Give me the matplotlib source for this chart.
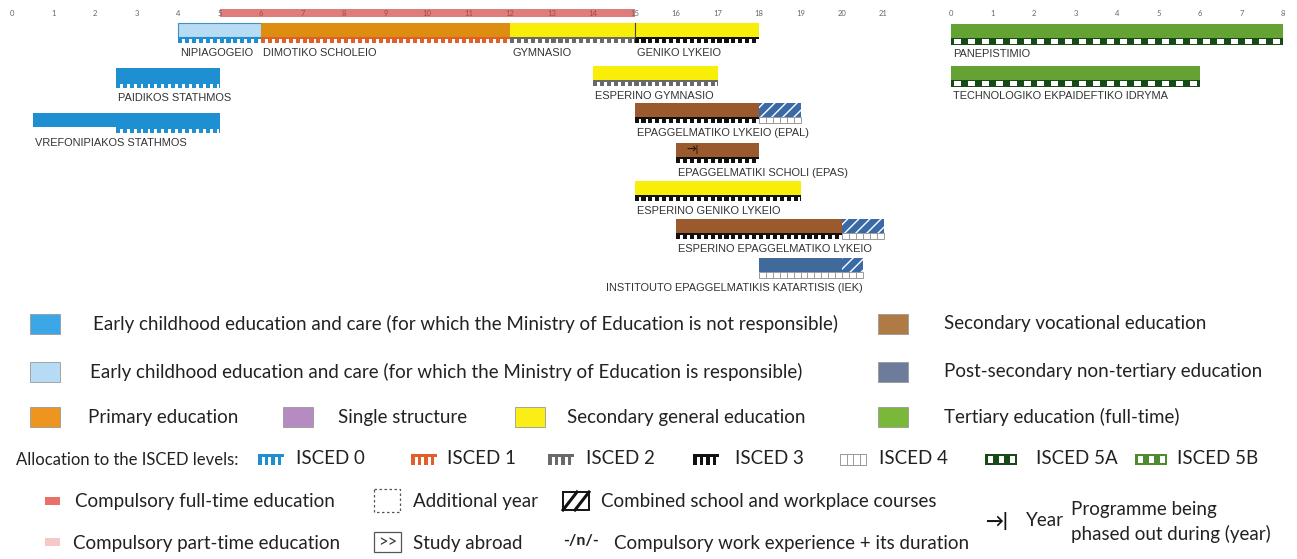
import matplotlib.pyplot as plt
from matplotlib.patches import Rectangle
import numpy as np

plt.rcParams['font.family'] = ['Lato', 'DejaVu Sans']

# age scale (left) and tertiary study years (right)
ages = list(range(0, 22))
tert_years = list(range(0, 9))
compulsory_start, compulsory_end = 5, 15

prog_names = ["NIPIAGOGEIO", "DIMOTIKO SCHOLEIO", "GYMNASIO", "GENIKO LYKEIO",
              "PAIDIKOS STATHMOS", "VREFONIPIAKOS STATHMOS", "ESPERINO GYMNASIO",
              "EPAGGELMATIKO LYKEIO (EPAL)", "EPAGGELMATIKI SCHOLI (EPAS)",
              "ESPERINO GENIKO LYKEIO", "ESPERINO EPAGGELMATIKO LYKEIO",
              "INSTITOUTO EPAGGELMATIKIS KATARTISIS (IEK)",
              "PANEPISTIMIO", "TECHNOLOGIKO EKPAIDEFTIKO IDRYMA"]
prog_tertiary = [False] * 12 + [True, True]

# segments of each programme: programme index, start, end, type, ISCED level
seg_prog = [0, 1, 2, 3, 4, 5, 5, 6, 7, 7, 8, 9, 10, 10, 11, 11, 12, 13]
seg_start = [4, 6, 12, 15, 2.5, 0.5, 2.5, 14, 15, 18, 16, 15, 16, 20, 18, 20, 0, 0]
seg_end = [6, 12, 15, 18, 5, 2.5, 5, 17, 18, 19, 18, 19, 20, 21, 20, 20.5, 8, 6]
seg_type = ["ecec_moe", "primary", "sec_gen", "sec_gen", "ecec", "ecec", "ecec", "sec_gen",
            "sec_voc", "combined", "sec_voc", "sec_gen", "sec_voc", "combined",
            "post_sec", "combined", "tertiary", "tertiary"]
seg_isced = ["0", "1", "2", "3", "0", None, "0", "2", "3", "4", "3", "3", "3", "4",
             "4", "4", "5A", "5A"]
phase_out_prog = 8
phase_out_age = 16.4

# layout (pixels from top)
prog_top = [23, 23, 23, 23, 68, 113, 66, 103, 143, 181, 219, 258, 24, 66]
BAR_H, STRIPE_H = 14, 6
PX_PER_YEAR = 41.5
LEFT_ZERO, RIGHT_ZERO = 12, 951
W, H = 1297, 559

fill = {"ecec": "#1e8fd0", "ecec_moe": "#b8dcf3", "primary": "#dd8d10",
        "sec_gen": "#f8ee08", "sec_voc": "#9a5a2e", "post_sec": "#3f6a9a",
        "combined": "#3a6aa6", "tertiary": "#64a234"}
stripe_col = {"0": "#1e8fd0", "1": "#e0602a", "2": "#6a6a6a", "3": "#111111",
              "4": "#9a9a9a", "5A": "#174a17", "5B": "#4f8a30"}


def draw_stripe(ax, x0, x1, ytop, h, level, period):
    c = stripe_col[level]
    if level == "4":
        ax.add_patch(Rectangle((x0, ytop), x1 - x0, h, fc="white", ec=c, lw=0.7))
        for x in np.arange(x0 + period, x1, period):
            ax.plot([x, x], [ytop, ytop + h], color=c, lw=0.7)
        return
    ax.add_patch(Rectangle((x0, ytop), x1 - x0, h, fc=c, ec="none"))
    if level in ("5A", "5B"):
        for x in np.arange(x0 + period * 0.25, x1 - period * 0.3, period):
            ax.add_patch(Rectangle((x, ytop + h * 0.2), period * 0.5, h * 0.6,
                                   fc="white", ec="none"))
    else:
        for x in np.arange(x0 + period * 0.6, x1 - period * 0.2, period):
            ax.add_patch(Rectangle((x, ytop + h * 0.3), period * 0.4, h * 0.7,
                                   fc="white", ec="none"))


fig = plt.figure(figsize=(W / 100, H / 100), dpi=100)
ax_l = fig.add_axes([0, 0, 1, 1])
ax_r = fig.add_axes([0, 0, 1, 1])
ax_g = fig.add_axes([0, 0, 1, 1])
ax_l.set_xlim(-LEFT_ZERO / PX_PER_YEAR, (W - LEFT_ZERO) / PX_PER_YEAR)
ax_r.set_xlim(-RIGHT_ZERO / PX_PER_YEAR, (W - RIGHT_ZERO) / PX_PER_YEAR)
ax_g.set_xlim(0, W)
for a in (ax_l, ax_r, ax_g):
    a.set_ylim(H, 0)
    a.axis("off")
    a.patch.set_alpha(0)

# age scales
for a in ages:
    inside = compulsory_start < a < compulsory_end
    ax_l.text(a, 13, str(a), fontsize=5.5, ha="center", va="center",
              color="#a84848" if inside else "#666666", zorder=5)
for t in tert_years:
    ax_r.text(t, 13, str(t), fontsize=5.5, ha="center", va="center", color="#666666")
ax_l.barh(12.5, compulsory_end - compulsory_start, left=compulsory_start, height=8,
          color="#de6e6e", alpha=0.9, zorder=4)

# programmes
for p, s, e, t, lv in zip(seg_prog, seg_start, seg_end, seg_type, seg_isced):
    ax = ax_r if prog_tertiary[p] else ax_l
    y = prog_top[p]
    if t == "combined":
        ax.add_patch(Rectangle((s, y), e - s, BAR_H, fc=fill[t], ec="white",
                               lw=0, hatch="///"))
    elif t == "ecec_moe":
        ax.add_patch(Rectangle((s, y), e - s, BAR_H, fc=fill[t], ec="#3d90c8", lw=0.8))
    else:
        ax.add_patch(Rectangle((s, y), e - s, BAR_H, fc=fill[t], ec="none"))
    if lv is not None:
        period = 1 / 3 if lv in ("5A", "5B") else 1 / 6
        draw_stripe(ax, s, e, y + BAR_H, STRIPE_H if lv[0] != "5" else 7, lv, period)

ax_l.plot([15, 15], [prog_top[3], prog_top[3] + BAR_H], color="#444444", lw=0.8)
ax_l.text(phase_out_age, prog_top[phase_out_prog] + BAR_H / 2, "→|", fontsize=7,
          ha="center", va="center", color="#2a1508", fontweight="bold")

for i, name in enumerate(prog_names):
    ax = ax_r if prog_tertiary[i] else ax_l
    segs = [j for j, p in enumerate(seg_prog) if p == i]
    s = min(seg_start[j] for j in segs)
    e = max(seg_end[j] for j in segs)
    if name.startswith("INSTITOUTO"):
        ax.text(e, prog_top[i] + 30, name, fontsize=7.9, ha="right", va="center",
                family="Liberation Sans", color="#333333")
    else:
        ax.text(s + 0.05, prog_top[i] + 30, name, fontsize=7.9, ha="left", va="center",
                family="Liberation Sans", color="#333333")

# legend
g = ax_g
fs = 13.5
sq = [(30, 324, "#3ba7e6", "Early childhood education and care (for which the Ministry of Education is not responsible)", 93),
      (30, 372, "#b6dbf4", "Early childhood education and care (for which the Ministry of Education is responsible)", 90),
      (30, 417, "#ee951f", "Primary education", 88),
      (283, 417, "#b58bc2", "Single structure", 338),
      (515, 417, "#fbee16", "Secondary general education", 567),
      (878, 324, "#b07a45", "Secondary vocational education", 944),
      (878, 372, "#6d7c9a", "Post-secondary non-tertiary education", 944),
      (878, 417, "#7ab83a", "Tertiary education (full-time)", 944)]
for x, y, c, lab, tx in sq:
    g.add_patch(Rectangle((x, y - 10), 30, 20, fc=c, ec="#999999", lw=0.6))
    g.text(tx, y, lab, fontsize=fs, va="center", ha="left", color="#222222")

g.text(16, 460, "Allocation to the ISCED levels:", fontsize=12, va="center", color="#222222")
isced_leg = [("0", 258, 296), ("1", 411, 447), ("2", 548, 586), ("3", 693, 735),
             ("4", 840, 879), ("5A", 985, 1036), ("5B", 1135, 1177)]
for lv, ix, tx in isced_leg:
    if lv in ("5A", "5B"):
        draw_stripe(g, ix, ix + 32, 454, 11, lv, 11)
    else:
        draw_stripe(g, ix, ix + 26, 454, 11, lv, 6.5)
    g.text(tx, 459, "ISCED " + lv, fontsize=fs, va="center", color="#222222")

g.add_patch(Rectangle((45, 497), 15, 8, fc="#e87068", ec="none"))
g.text(75, 501, "Compulsory full-time education", fontsize=fs, va="center", color="#222222")
g.add_patch(Rectangle((45, 538), 15, 8, fc="#f6c8c8", ec="none"))
g.text(73, 543, "Compulsory part-time education", fontsize=fs, va="center", color="#222222")
g.add_patch(Rectangle((374, 489), 26, 23, fc="none", ec="#555555", lw=0.9, ls=(0, (2, 2))))
g.text(413, 502, "Additional year", fontsize=fs, va="center", color="#222222")
g.add_patch(Rectangle((374, 532), 27, 20, fc="white", ec="#555555", lw=0.9))
g.text(387.5, 542, ">>", fontsize=12, va="center", ha="center", color="#333333")
g.text(413, 544, "Study abroad", fontsize=fs, va="center", color="#222222")
g.add_patch(Rectangle((563, 492), 26, 18, fc="white", ec="#111111", lw=1.4))
g.plot([563, 577], [510, 492], color="#111111", lw=2.2)
g.plot([575, 589], [510, 492], color="#111111", lw=2.2)
g.text(601, 501, "Combined school and workplace courses", fontsize=fs, va="center", color="#222222")
g.text(563, 541, "-/n/-", fontsize=11.5, va="center", fontweight="bold", color="#222222")
g.text(614, 543, "Compulsory work experience + its duration", fontsize=fs, va="center", color="#222222")
g.text(985, 521, "→|", fontsize=13, va="center", fontweight="bold", color="#111111")
g.text(1026, 521, "Year", fontsize=fs, va="center", color="#222222")
g.text(1071, 510, "Programme being", fontsize=fs, va="center", color="#222222")
g.text(1071, 534, "phased out during (year)", fontsize=fs, va="center", color="#222222")

fig.savefig("out.png", dpi=100, facecolor="white")
